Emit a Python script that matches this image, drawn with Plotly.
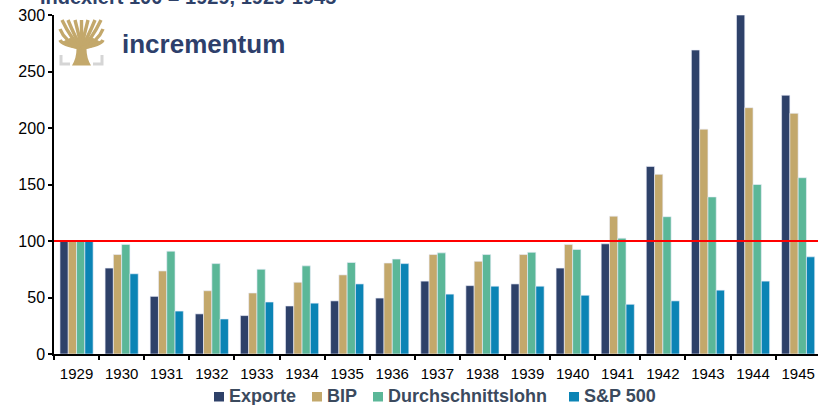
import plotly.graph_objects as go

years = [str(y) for y in range(1929, 1946)]
exporte = [100, 76, 51, 35.5, 34, 42.5, 47, 49.5, 64.5, 60.5, 62, 76, 97.5, 166, 269, 300, 229]
bip = [100, 88, 73.5, 56, 54, 63.5, 70, 80.5, 88, 82, 88, 97, 122, 159, 199, 218, 213]
lohn = [100, 97, 91, 80, 75, 78, 81, 84, 89.5, 88, 90, 92.5, 102.5, 121.5, 139, 150, 156]
sp500 = [100, 71, 38, 31, 46, 45, 62, 80, 53, 60, 60, 52, 44, 47, 56.5, 64.5, 86]

series_names = ["Exporte", "BIP", "Durchschnittslohn", "S&P 500"]
series_values = [exporte, bip, lohn, sp500]
colors = ["#2E4169", "#C3A86B", "#5BB798", "#0B84B5"]
y_ticks = [0, 50, 100, 150, 200, 250, 300]
ref_level = 100
title_text = "Indexiert 100 = 1929, 1929-1945"
logo_text = "incrementum"

W, H = 818, 405
L, R, T, B = 54, 0, 15, 51
PW, PH = W - L - R, H - T - B

def px(x):
    return (x - L) / PW

def py(y):
    return (H - B - y) / PH

FONT = "Liberation Sans, Arial, sans-serif"

fig = go.Figure()
for name, vals, col in zip(series_names, series_values, colors):
    fig.add_trace(go.Bar(
        x=years, y=vals, name=name,
        marker=dict(color=col, line=dict(color="rgba(235,238,250,0.9)", width=0.7)),
        showlegend=False,
    ))

shapes = []
# reference line
shapes.append(dict(type="line", xref="paper", yref="y", x0=0, x1=1, y0=ref_level, y1=ref_level,
                   line=dict(color="#FF0000", width=2), layer="above"))

# logo: tree
gold = "#C3A86B"
def P(x, y):
    return f"{px(x):.5f},{py(y):.5f}"

trunk = (f"M {P(72,65.5)} L {P(91,65.5)} Q {P(86.5,58)} {P(86.5,49)} "
         f"L {P(76.5,49)} Q {P(76.5,58)} {P(72,65.5)} Z")
shapes.append(dict(type="path", xref="paper", yref="paper", path=trunk,
                   fillcolor=gold, line=dict(color=gold, width=0)))
canopy = (f"M {P(63,42)} Q {P(81.5,56)} {P(100,42)} L {P(92,38)} Q {P(81.5,44)} {P(71,38)} Z")
shapes.append(dict(type="path", xref="paper", yref="paper", path=canopy,
                   fillcolor=gold, line=dict(color=gold, width=1)))
branches = [
    ((60, 40), (62, 45)), ((60, 29), (65, 42)),
    ((62, 20), (71, 39)), ((68, 20), (75, 37)), ((75, 20), (79, 35)),
    ((81.5, 20), (81.5, 35)),
    ((88, 20), (84, 35)), ((95, 20), (88, 37)), ((101, 20), (92, 39)),
    ((103, 29), (98, 42)), ((103, 40), (101, 45)),
]
for (ex, ey), (cx, cy) in branches:
    shapes.append(dict(type="path", xref="paper", yref="paper",
                       path=f"M {P(81.5,48)} Q {P(cx,cy)} {P(ex,ey)}",
                       line=dict(color=gold, width=3.4)))
grey = "#D5D5D5"
shapes.append(dict(type="path", xref="paper", yref="paper",
                   path=f"M {P(61,55)} L {P(61,64)} L {P(70,64)}", line=dict(color=grey, width=3)))
shapes.append(dict(type="path", xref="paper", yref="paper",
                   path=f"M {P(102,55)} L {P(102,64)} L {P(93,64)}", line=dict(color=grey, width=3)))

# custom legend
leg_text_x = [228, 326, 387, 583]
annotations = []
for name, col, tx in zip(series_names, colors, leg_text_x):
    shapes.append(dict(type="rect", xref="paper", yref="paper",
                       x0=px(tx - 14), x1=px(tx - 4), y0=py(401.5), y1=py(392),
                       fillcolor=col, line=dict(width=0)))
    annotations.append(dict(xref="paper", yref="paper", x=px(tx), y=py(396),
                            xanchor="left", yanchor="middle", showarrow=False,
                            text=f"<b>{name}</b>",
                            font=dict(family=FONT, size=18, color="#3B4A5E"),
                            borderpad=0))

annotations.append(dict(xref="paper", yref="paper", x=px(39), y=py(-3),
                        xanchor="left", yanchor="middle", showarrow=False,
                        text=f"<b>{title_text}</b>",
                        font=dict(family=FONT, size=20, color="#2E4169"), borderpad=0))
annotations.append(dict(xref="paper", yref="paper", x=px(121), y=py(44),
                        xanchor="left", yanchor="middle", showarrow=False,
                        text=f"<b>{logo_text}</b>",
                        font=dict(family=FONT, size=26, color="#2E3F6B"), borderpad=0))

fig.update_layout(
    width=W, height=H,
    margin=dict(l=L, r=R, t=T, b=B, pad=0),
    paper_bgcolor="white", plot_bgcolor="white",
    barmode="group", bargap=0.265, bargroupgap=0,
    shapes=shapes, annotations=annotations,
    font=dict(family=FONT),
    xaxis=dict(
        type="category", range=[-0.5, 16.44],
        showline=True, linecolor="black", linewidth=1.5,
        ticks="outside", tickson="boundaries", ticklen=4, tickcolor="black", tickwidth=1.5,
        tickfont=dict(family=FONT, size=15, color="black"),
        ticklabelstandoff=5,
        showgrid=False, zeroline=False,
    ),
    yaxis=dict(
        range=[0, 300], tickvals=y_ticks,
        showline=True, linecolor="black", linewidth=1.5,
        ticks="outside", ticklen=4, tickcolor="black", tickwidth=1.5,
        tickfont=dict(family=FONT, size=16, color="black"),
        showgrid=False, zeroline=False,
    ),
)

fig.write_html(
    "out.html",
    config={"displayModeBar": False},
    post_script="document.body.style.margin='0';document.body.style.overflow='hidden';"
                "var s=document.querySelectorAll('.main-svg');"
                "for(var i=0;i<s.length;i++){s[i].style.overflow='visible';}",
)
